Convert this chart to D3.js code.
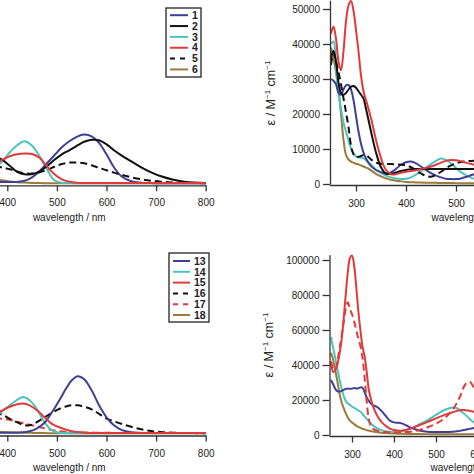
<!DOCTYPE html>
<html><head><meta charset="utf-8">
<script src="https://cdn.jsdelivr.net/npm/d3@7"></script>
<style>body{margin:0;background:#fff}svg{display:block}text{font-family:"Liberation Sans",Arial,sans-serif}</style>
</head><body>
<script>
// ---------- DATA ----------
// Top-left panel (visible region), arbitrary absorbance units
const wlTL = [375,390,405,420,435,450,465,480,495,510,525,540,555,570,585,600,615,630,650,670,690,710,735,760,800];
const tl1 = [0.025,0.023,0.022,0.024,0.035,0.07,0.13,0.21,0.29,0.37,0.43,0.475,0.497,0.48,0.415,0.30,0.17,0.08,0.03,0.016,0.012,0.01,0.01,0.01,0.01];
const tl2 = [0.28,0.245,0.185,0.125,0.10,0.103,0.13,0.18,0.245,0.30,0.34,0.385,0.425,0.445,0.44,0.40,0.34,0.29,0.23,0.17,0.12,0.08,0.045,0.023,0.012];
const tl3 = [0.17,0.23,0.32,0.39,0.43,0.385,0.28,0.15,0.04,0.015,0.012,0.011,0.011,0.011,0.011,0.011,0.011,0.011,0.011,0.011,0.011,0.011,0.011,0.011,0.011];
const tl4 = [0.21,0.245,0.28,0.30,0.307,0.303,0.265,0.18,0.10,0.05,0.026,0.016,0.013,0.012,0.012,0.012,0.012,0.012,0.012,0.012,0.012,0.012,0.012,0.012,0.012];
const tl5 = [0.18,0.168,0.15,0.128,0.11,0.107,0.12,0.145,0.175,0.203,0.217,0.218,0.21,0.19,0.165,0.14,0.117,0.095,0.07,0.05,0.036,0.026,0.018,0.014,0.011];
const tl6 = [0.05,0.04,0.028,0.021,0.017,0.014,0.012,0.011,0.010,0.010,0.010,0.010,0.010,0.010,0.010,0.010,0.010,0.010,0.010,0.010,0.010,0.010,0.010,0.010,0.010];
const tlLabels = ["1","2","3","4","5","6"];

// Bottom-left panel
const wlBL = [375,390,405,420,432,445,460,475,490,505,520,530,542,555,570,585,600,615,630,650,670,690,710,735,760,800];
const bl13 = [0.015,0.015,0.015,0.016,0.02,0.03,0.06,0.115,0.22,0.34,0.47,0.54,0.58,0.55,0.44,0.29,0.17,0.09,0.045,0.02,0.014,0.012,0.012,0.012,0.012,0.012];
const bl14 = [0.17,0.23,0.29,0.345,0.373,0.34,0.25,0.12,0.04,0.015,0.012,0.011,0.011,0.011,0.011,0.011,0.011,0.011,0.011,0.011,0.011,0.011,0.011,0.011,0.011,0.011];
const bl15 = [0.19,0.24,0.275,0.30,0.307,0.29,0.24,0.17,0.105,0.07,0.045,0.03,0.022,0.016,0.013,0.012,0.012,0.012,0.012,0.012,0.012,0.012,0.012,0.012,0.012,0.012];
const bl16 = [0.22,0.195,0.155,0.12,0.095,0.09,0.123,0.17,0.215,0.255,0.28,0.29,0.29,0.275,0.25,0.205,0.157,0.13,0.105,0.075,0.05,0.032,0.022,0.016,0.013,0.011];
const bl17 = [0.16,0.155,0.145,0.125,0.11,0.095,0.078,0.06,0.043,0.03,0.024,0.021,0.019,0.018,0.017,0.016,0.015,0.014,0.014,0.014,0.014,0.014,0.014,0.014,0.014,0.014];
const bl18 = [0.025,0.022,0.02,0.018,0.016,0.015,0.013,0.012,0.011,0.010,0.010,0.010,0.010,0.010,0.010,0.010,0.010,0.010,0.010,0.010,0.010,0.010,0.010,0.010,0.010,0.010];
const blLabels = ["13","14","15","16","17","18"];

// Top-right panel: epsilon / M^-1 cm^-1
const wlTR = [250,255,260,265,270,275,280,285,290,295,300,305,310,315,320,325,330,340,350,360,370,380,390,400,410,420,430,440,450,460,470,480,490,500,510,520,530,540];
const tr1 = [30000,29500,28500,26000,25500,27000,28200,28300,27000,24000,19500,15000,11500,9000,7300,6000,5100,4000,3400,3000,3300,4300,5500,6200,6400,5900,5000,4000,3100,2400,1900,1500,1400,1400,1600,2000,2500,3000];
const tr2 = [36000,38000,35000,29000,26000,25500,26000,27000,27800,28000,27500,26500,25500,24500,21500,18300,15000,9000,4800,3000,2900,3300,3700,4000,4200,4300,4300,4300,4300,4300,4300,4300,4300,4300,4300,4300,4300,4300];
const tr3 = [40000,40700,33000,26000,21500,17500,15000,12500,10200,8800,7900,7600,7500,7300,6900,6300,5600,4100,3200,2400,1900,1600,1450,1500,1900,2700,3600,4700,5700,6600,7300,6900,5900,4600,3400,2500,1800,1300];
const tr4 = [43000,45000,41500,35000,32500,38000,46500,51000,52300,49500,44000,38000,31000,26500,24000,21500,18800,12600,7400,4000,2800,2800,3200,3500,3700,3900,4200,4600,5000,5500,6100,6600,6850,6800,6500,6100,5700,5400];
const tr5 = [34000,37500,35000,32000,28500,24500,20500,16300,11000,8500,7700,7800,8000,8300,8200,7700,7000,6100,5800,5700,5700,5600,5500,5300,4800,3900,3000,2300,2100,2600,3500,4500,5300,5900,6300,6500,6600,6600];
const tr6 = [39000,36000,32000,27000,20000,12600,8300,7000,6400,6100,5800,5600,5300,5000,4700,4400,3900,2900,2200,1600,1200,950,750,600,500,450,400,380,350,330,300,280,260,250,230,220,210,200];
const trTicks = [0,10000,20000,30000,40000,50000];

// Bottom-right panel
const wlBR = [250,255,260,265,270,275,280,285,290,295,300,305,310,315,320,325,330,335,340,345,350,360,370,380,390,400,410,420,440,460,480,500,520,540,550,560,570,580,590,600];
const br13 = [31500,29000,26500,25000,24800,25200,25800,26300,26500,26400,26500,26800,26600,26700,27200,27000,24500,21500,19500,18000,17000,16000,13800,11000,8200,7200,7000,6500,4200,2600,1800,1700,1700,1900,2100,2500,3000,3500,4000,4500];
const br14 = [56000,50000,44000,38000,32000,27000,22500,19500,18000,17200,16300,15500,14800,14000,13300,12000,10500,9200,8000,6700,5500,3800,2800,2100,1800,1700,1800,2100,3600,6000,8500,11500,14300,15700,15300,13500,11500,9200,7200,5500];
const br15 = [42000,36000,37000,40000,46000,54000,66000,80000,93000,101000,102500,97000,85000,71000,60000,50500,45000,36000,26000,20500,16500,11000,7500,5300,3600,2800,2500,2600,3800,5600,7500,9500,11500,13000,13800,14300,14200,13900,13300,12500];
const br17 = [42000,38000,37000,42000,49000,56000,64000,72000,75800,72000,69000,65000,60000,55000,51000,44000,33000,19000,9000,5000,3500,2500,1900,1700,1600,1500,1500,1600,1900,2800,4400,6500,9500,14500,18500,23500,29000,30500,27000,22000];
const br18 = [47000,43000,37000,31000,24000,19000,15500,12500,10000,8200,7200,6200,5400,4700,4100,3600,3200,2800,2500,2200,2000,1600,1300,1100,950,850,750,700,600,550,500,450,420,400,400,400,400,400,400,400];
const brTicks = [0,20000,40000,60000,80000,100000];
const xTicks = [300,400,500,600,700,800];

// ---------- STYLE ----------
const C = {blue:"#3d3f98", black:"#111111", cyan:"#4cc3c0", red:"#e23a3a", brown:"#9b7a3a"};
const DASH = "7,4";

const W = 474, H = 474;
const svg = d3.select("body").append("svg").attr("width",W).attr("height",H);

function line(x,y,wl){
  return d3.line().x((d,i)=>x(wl[i])).y(d=>y(d)).curve(d3.curveCatmullRom.alpha(0.5));
}
function drawSeries(g,x,y,wl,list){
  list.forEach(s=>{
    g.append("path").attr("d",line(x,y,wl)(s.v)).attr("fill","none")
      .attr("stroke",s.c).attr("stroke-width",2)
      .attr("stroke-dasharray",s.dash?DASH:null)
      .attr("stroke-linejoin","round");
  });
}
function xAxis(x,yPos,titleY){
  const g = svg.append("g").attr("transform",`translate(0,${yPos})`)
    .call(d3.axisBottom(x).tickValues(xTicks).tickSize(6).tickSizeOuter(0).tickPadding(8).tickFormat(d3.format("d")));
  g.select(".domain").attr("stroke","#333").attr("stroke-width",1.3);
  g.selectAll(".tick line").attr("stroke","#333").attr("stroke-width",1.3);
  g.selectAll(".tick text").attr("font-size",10).attr("fill","#222");
  const r = x.range();
  svg.append("text").attr("x",(r[0]+r[1])/2).attr("y",titleY).attr("text-anchor","middle")
    .attr("font-size",10).attr("fill","#222").text("wavelength / nm");
}
function yAxis(y,xPos,ticks){
  const g = svg.append("g").attr("transform",`translate(${xPos},0)`)
    .call(d3.axisLeft(y).tickValues(ticks).tickSize(7).tickSizeOuter(0).tickPadding(3).tickFormat(d3.format("d")));
  g.select(".domain").attr("stroke","#333").attr("stroke-width",1.3);
  g.selectAll(".tick line").attr("stroke","#333").attr("stroke-width",1.3);
  g.selectAll(".tick text").attr("font-size",10).attr("fill","#222");
}
function yTitle(cx,cy){
  const t = svg.append("text").attr("transform",`translate(${cx},${cy}) rotate(-90)`)
    .attr("text-anchor","middle").attr("font-size",12.5).attr("fill","#222");
  t.append("tspan").text("ε / M");
  t.append("tspan").attr("font-size",8).attr("dy",-5.5).text("−1");
  t.append("tspan").attr("dy",5.5).text(" cm");
  t.append("tspan").attr("font-size",8).attr("dy",-5.5).text("−1");
}
function legend(x0,y0,w,h,items,lx0,lx1,tx,ty0,step){
  svg.append("rect").attr("x",x0).attr("y",y0).attr("width",w).attr("height",h)
    .attr("fill","#fff").attr("stroke","#222").attr("stroke-width",1.3);
  items.forEach((s,i)=>{
    const yy = ty0 + i*step;
    svg.append("line").attr("x1",lx0).attr("x2",lx1).attr("y1",yy).attr("y2",yy)
      .attr("stroke",s.c).attr("stroke-width",2).attr("stroke-dasharray",s.dash?"5,5":null);
    svg.append("text").attr("x",tx).attr("y",yy+3.7).attr("font-size",10.5).attr("font-weight","bold")
      .attr("fill","#222").text(s.label);
  });
}

// ---------- TOP-LEFT ----------
{
  const x = d3.scaleLinear().domain([250,800]).range([-67.1,205.7]);
  const y = d3.scaleLinear().domain([0,1.8]).range([184.3,4.3]);
  const g = svg.append("g");
  const S = [
    {v:tl6,c:C.brown},{v:tl3,c:C.cyan},{v:tl1,c:C.blue},{v:tl2,c:C.black},
    {v:tl5,c:C.black,dash:true},{v:tl4,c:C.red}];
  drawSeries(g,x,y,wlTL,S);
  xAxis(x,185.3,221);
  const L = [{c:C.blue},{c:C.black},{c:C.cyan},{c:C.red},{c:C.black,dash:true},{c:C.brown}]
    .map((d,i)=>Object.assign(d,{label:tlLabels[i]}));
  legend(166,8,35,69,L,170,188,192,15.2,10.85);
}
// ---------- BOTTOM-LEFT ----------
{
  const x = d3.scaleLinear().domain([250,800]).range([-67.1,205.7]);
  const y = d3.scaleLinear().domain([0,1.8]).range([434.3,254.3]);
  const g = svg.append("g");
  const S = [
    {v:bl18,c:C.brown},{v:bl17,c:C.red,dash:true},{v:bl16,c:C.black,dash:true},
    {v:bl14,c:C.cyan},{v:bl13,c:C.blue},{v:bl15,c:C.red}];
  drawSeries(g,x,y,wlBL,S);
  xAxis(x,435.5,471);
  const L = [{c:C.blue},{c:C.cyan},{c:C.red},{c:C.black,dash:true},{c:C.red,dash:true},{c:C.brown}]
    .map((d,i)=>Object.assign(d,{label:blLabels[i]}));
  legend(169,253,40,69,L,173,190,194,261,10.8);
}
// ---------- TOP-RIGHT ----------
{
  const x = d3.scaleLinear().domain([250,800]).range([331,606]);
  const y = d3.scaleLinear().domain([0,52500]).range([184,0.25]);
  const g = svg.append("g");
  const S = [{v:tr6,c:C.brown},{v:tr3,c:C.cyan},{v:tr1,c:C.blue},{v:tr2,c:C.black},
    {v:tr5,c:C.black,dash:true},{v:tr4,c:C.red}];
  drawSeries(g,x,y,wlTR,S);
  yAxis(y,330,trTicks);
  const gx = svg.append("g").attr("transform","translate(0,185.5)")
    .call(d3.axisBottom(x).tickValues(xTicks).tickSize(6).tickSizeOuter(0).tickPadding(8).tickFormat(d3.format("d")));
  gx.select(".domain").attr("d",`M330,0H606`).attr("stroke","#333").attr("stroke-width",1.3);
  gx.selectAll(".tick line").attr("stroke","#333").attr("stroke-width",1.3);
  gx.selectAll(".tick text").attr("font-size",10).attr("fill","#222");
  svg.append("text").attr("x",468).attr("y",221).attr("text-anchor","middle")
    .attr("font-size",10).attr("fill","#222").text("wavelength / nm");
  yTitle(275,93);
}
// ---------- BOTTOM-RIGHT ----------
{
  const x = d3.scaleLinear().domain([250,900]).range([331,604]);
  const y = d3.scaleLinear().domain([0,103000]).range([435,254.75]);
  const g = svg.append("g");
  const S = [{v:br18,c:C.brown},{v:br14,c:C.cyan},{v:br13,c:C.blue},
    {v:br17,c:C.red,dash:true},{v:br15,c:C.red}];
  drawSeries(g,x,y,wlBR,S);
  yAxis(y,329.5,brTicks);
  const gx = svg.append("g").attr("transform","translate(0,436.5)")
    .call(d3.axisBottom(x).tickValues([300,400,500,600,700,800,900]).tickSize(6).tickSizeOuter(0).tickPadding(8).tickFormat(d3.format("d")));
  gx.select(".domain").attr("d",`M329.5,0H604`).attr("stroke","#333").attr("stroke-width",1.3);
  gx.selectAll(".tick line").attr("stroke","#333").attr("stroke-width",1.3);
  gx.selectAll(".tick text").attr("font-size",10).attr("fill","#222");
  svg.append("text").attr("x",467).attr("y",471).attr("text-anchor","middle")
    .attr("font-size",10).attr("fill","#222").text("wavelength / nm");
  yTitle(273,345);
}
</script>
</body></html>
